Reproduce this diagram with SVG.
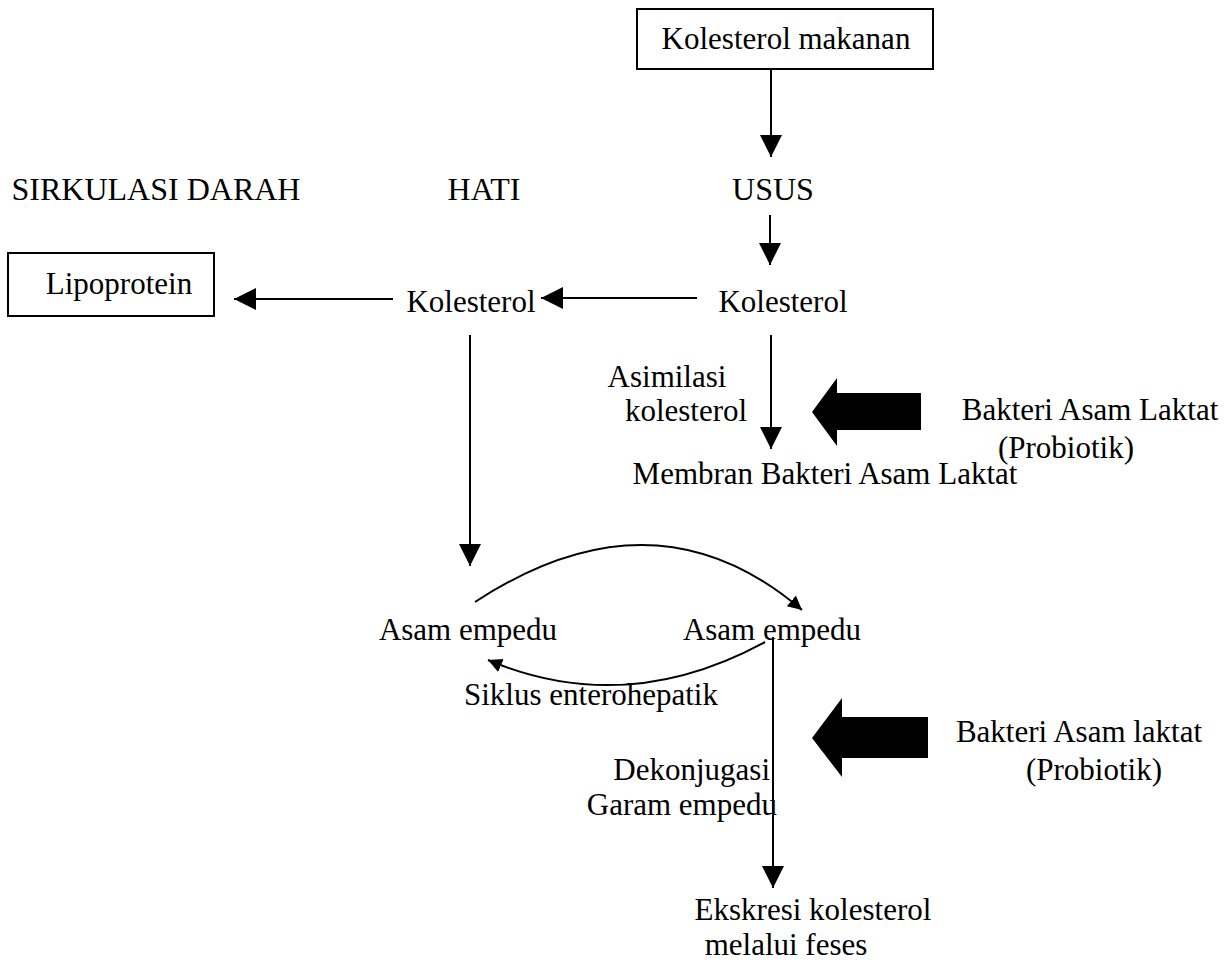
<svg xmlns="http://www.w3.org/2000/svg" width="1231" height="969" viewBox="0 0 1231 969">
<style>
text{font-family:"Liberation Serif","Times New Roman",serif;font-size:31px;fill:#000}
.m{text-anchor:middle}
.e{text-anchor:end}
.h{font-size:32px}
.box{fill:#fff;stroke:#000;stroke-width:2}
.ln{fill:none;stroke:#000;stroke-width:2}
.thick{fill:#000}
</style>
<defs>
<marker id="ah" markerUnits="userSpaceOnUse" markerWidth="24" markerHeight="24" refX="22" refY="11" orient="auto">
<path d="M0,0 L22,11 L0,22 Z" fill="#000"/>
</marker>
<marker id="as" markerUnits="userSpaceOnUse" markerWidth="16" markerHeight="16" refX="14" refY="7" orient="auto">
<path d="M0,0 L14,7 L0,14 Z" fill="#000"/>
</marker>
</defs>
<rect width="1231" height="969" fill="#fff"/>
<g id="headers">
<text x="156" y="200" class="m h">SIRKULASI DARAH</text>
<text x="484" y="200" class="m h">HATI</text>
<text x="773" y="200" class="m h">USUS</text>
</g>
<g id="kolesterol-makanan">
<rect x="637" y="9" width="296" height="60" class="box"/>
<text x="786" y="49" class="m">Kolesterol makanan</text>
</g>
<g id="lipoprotein">
<rect x="8" y="253" width="206" height="63" class="box"/>
<text x="119" y="294" class="m">Lipoprotein</text>
</g>
<g id="kolesterol-hati"><text x="471" y="312" class="m">Kolesterol</text></g>
<g id="kolesterol-usus"><text x="783" y="312" class="m">Kolesterol</text></g>
<g id="membran"><text x="825" y="484" class="m">Membran Bakteri Asam Laktat</text></g>
<g id="bal1">
<polygon class="thick" points="812,412 837,378 837,393 921,393 921,430 837,430 837,446"/>
<text x="1090" y="420" class="m">Bakteri Asam Laktat</text>
<text x="1066" y="458" class="m">(Probiotik)</text>
</g>
<g id="asam-empedu-hati"><text x="468" y="640" class="m">Asam empedu</text></g>
<g id="asam-empedu-usus"><text x="772" y="640" class="m">Asam empedu</text></g>
<g id="bal2">
<polygon class="thick" points="812,738 842,698 842,717 928,717 928,758 842,758 842,777"/>
<text x="1079" y="742" class="m">Bakteri Asam laktat</text>
<text x="1094" y="780" class="m">(Probiotik)</text>
</g>
<g id="ekskresi">
<text x="813" y="920" class="m">Ekskresi kolesterol</text>
<text x="786" y="955" class="m">melalui feses</text>
</g>
<g id="connectors">
<line x1="771" y1="69" x2="771" y2="157" class="ln" marker-end="url(#ah)"/>
<line x1="770" y1="215" x2="770" y2="265" class="ln" marker-end="url(#ah)"/>
<line x1="697" y1="298" x2="541" y2="298" class="ln" marker-end="url(#ah)"/>
<line x1="393" y1="299" x2="234" y2="299" class="ln" marker-end="url(#ah)"/>
<line x1="470" y1="335" x2="470" y2="566" class="ln" marker-end="url(#ah)"/>
<line x1="771" y1="335" x2="771" y2="449" class="ln" marker-end="url(#ah)"/>
<path d="M475,602 Q655,484 802,610" class="ln" marker-end="url(#as)"/>
<path d="M765,642 Q625,718 488,660" class="ln" marker-end="url(#as)"/>
<line x1="773" y1="637" x2="773" y2="888" class="ln" marker-end="url(#ah)"/>
</g>
<g id="labels">
<text x="667" y="387" class="m">Asimilasi</text>
<text x="686" y="421" class="m">kolesterol</text>
<text x="591" y="705" class="m">Siklus enterohepatik</text>
<text x="770" y="780" class="e">Dekonjugasi</text>
<text x="777" y="815" class="e">Garam empedu</text>
</g>
</svg>
